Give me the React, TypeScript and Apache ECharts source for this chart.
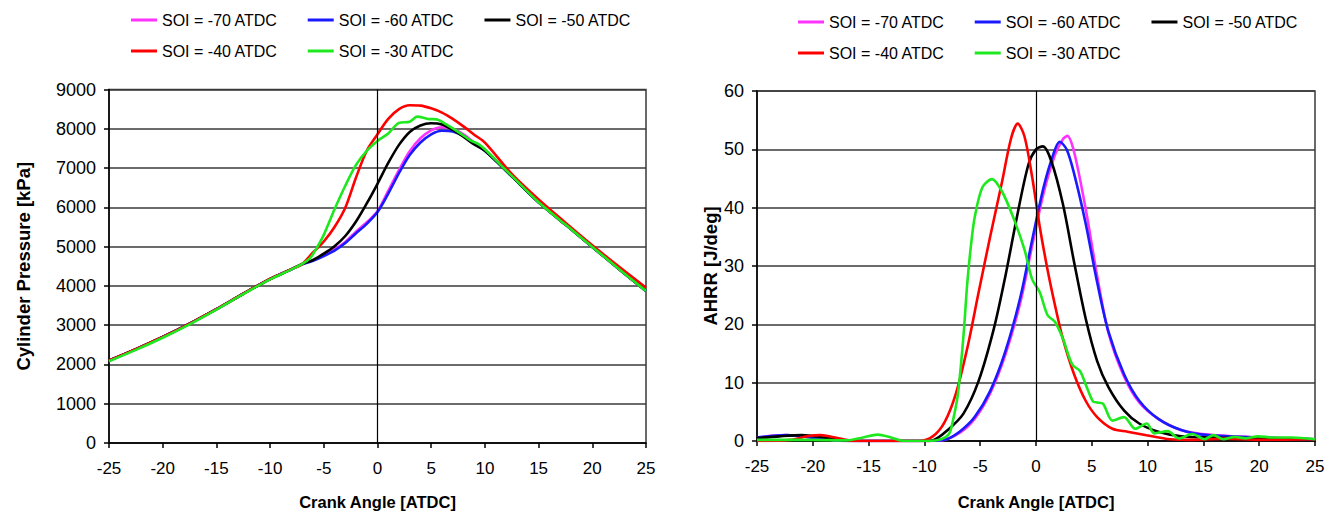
import React, { useEffect, useRef } from "react";
import * as echarts from "echarts";

const FONT = "'Liberation Sans', Arial, sans-serif";

const seriesNames = ["SOI = -70 ATDC", "SOI = -60 ATDC", "SOI = -50 ATDC", "SOI = -40 ATDC", "SOI = -30 ATDC"];
const seriesColors = ["#ff33ff", "#1a1aff", "#000000", "#ff0000", "#1ee81e"];
const xTicks = { min: -25, max: 25, interval: 5 };

// Left chart: cylinder pressure [kPa] vs crank angle [ATDC]
const pressure70 = [[-25,2100],[-22.5,2390],[-20,2700],[-17.5,3040],[-15,3410],[-12.5,3800],[-10,4175],[-8,4425],[-7,4550],[-6,4650],[-5,4780],[-4,4930],[-3,5120],[-2,5380],[-1,5620],[0,5900],[1,6420],[2,6950],[3,7430],[4,7760],[5,7960],[6,8040],[7,8000],[8,7860],[9,7650],[10,7450],[12.5,6800],[15,6130],[17.5,5560],[20,4990],[22.5,4425],[25,3870]];
const pressure60 = [[-25,2100],[-22.5,2390],[-20,2700],[-17.5,3040],[-15,3410],[-12.5,3800],[-10,4175],[-8,4425],[-7,4550],[-6,4640],[-5,4760],[-4,4900],[-3,5090],[-2,5340],[-1,5580],[0,5880],[1,6350],[2,6870],[3,7330],[4,7650],[5,7860],[6,7950],[7,7930],[8,7820],[9,7630],[10,7440],[12.5,6790],[15,6130],[17.5,5560],[20,4990],[22.5,4425],[25,3870]];
const pressure50 = [[-25,2100],[-22.5,2390],[-20,2700],[-17.5,3040],[-15,3410],[-12.5,3800],[-10,4175],[-8,4425],[-7,4560],[-6,4660],[-5,4820],[-4,5010],[-3,5270],[-2,5640],[-1,6100],[0,6600],[1,7130],[2,7590],[3,7920],[4,8085],[5,8140],[6,8110],[7,7970],[8,7800],[9,7600],[10,7440],[12.5,6790],[15,6130],[17.5,5560],[20,4990],[22.5,4425],[25,3870]];
const pressure40 = [[-25,2100],[-22.5,2390],[-20,2700],[-17.5,3040],[-15,3410],[-12.5,3800],[-10,4175],[-8,4425],[-7,4560],[-6,4850],[-5,5130],[-4,5500],[-3,5990],[-2,6760],[-1,7440],[0,7860],[1,8250],[2,8500],[3,8600],[4,8590],[5,8520],[6,8410],[7,8250],[8,8060],[9,7850],[10,7650],[12.5,6850],[15,6200],[17.5,5610],[20,5035],[22.5,4485],[25,3955]];
const pressure30 = [[-25,2080],[-22.5,2370],[-20,2680],[-17.5,3020],[-15,3395],[-12.5,3790],[-10,4165],[-8,4420],[-7,4560],[-6.3,4700],[-5.8,4900],[-5,5300],[-4,5950],[-3,6550],[-2,7080],[-1,7440],[0,7690],[1,7880],[2,8150],[3,8180],[3.7,8310],[4.7,8250],[5.5,8240],[6.4,8110],[7.4,7940],[8.7,7700],[9.4,7610],[10,7480],[11.7,7015],[12.5,6800],[15,6130],[17.5,5560],[20,4990],[22.5,4425],[25,3870]];

// Right chart: apparent heat release rate [J/deg] vs crank angle [ATDC]
const ahrr70 = [[-25,0.6],[-22.5,1.0],[-20,0.6],[-18,0.1],[-16,0],[-10,0],[-8.5,0.1],[-6.85,1.4],[-5.5,3.8],[-4.1,8.2],[-2.74,14.8],[-1.37,24.0],[-0.34,33.5],[0.68,42.5],[1.71,49.1],[2.4,51.7],[2.8,52.3],[3.42,49.5],[4.45,39.8],[5.48,28.3],[6.5,18.5],[7.9,11.0],[9.25,6.6],[10.96,3.8],[13,1.9],[15.4,1.1],[20,0.6],[25,0.3]];
const ahrr60 = [[-25,0.6],[-22.3,1.0],[-19.5,0.45],[-17.5,0.05],[-16,0],[-10,0],[-8.2,0.2],[-6.85,1.6],[-5.5,4.1],[-4.1,8.6],[-2.74,15.4],[-1.37,24.9],[-0.34,34.5],[0.68,43.5],[1.54,49.1],[2.12,51.3],[2.74,50],[3.42,45.8],[4.45,37.3],[5.48,27.2],[6.5,18.7],[7.9,11.4],[9.25,6.9],[10.96,3.8],[13,1.9],[15.4,1.0],[19.9,0.6],[25,0.3]];
const ahrr50 = [[-25,0.5],[-23,0.8],[-21,1.0],[-19,0.6],[-17,0.05],[-15,0],[-10,0],[-9.25,0.1],[-7.9,1.9],[-6.5,4.7],[-5.14,10.3],[-3.77,19.3],[-2.74,28.3],[-1.71,38.4],[-0.68,47.4],[0,50],[0.62,50.5],[1.37,48],[2.4,40.7],[3.42,30.6],[4.45,21],[5.48,13.7],[6.5,9.2],[7.9,5.2],[9.25,3],[10.96,1.6],[13,0.8],[15.4,0.6],[25,0.3]];
const ahrr40 = [[-25,0],[-22,0.2],[-20.5,0.8],[-19.3,1.0],[-18,0.6],[-16.5,0.05],[-15,0],[-10.5,0],[-9.25,0.8],[-8.2,3.2],[-7.2,8.0],[-6.16,15.9],[-5.14,25.5],[-4.1,35.1],[-3.08,44.1],[-2.23,51.9],[-1.64,54.4],[-1.03,52.2],[-0.34,45.2],[0.34,36.7],[1.03,29.4],[1.71,23.2],[2.4,17.6],[3.42,11.4],[4.45,6.9],[5.48,4.1],[6.85,2.1],[8.2,1.6],[9.9,1.0],[12,0.3],[14,0.2],[17,0.4],[20,0.2],[25,0.3]];
const ahrr30 = [[-25,0.2],[-20,0.2],[-17,0.1],[-15.5,0.6],[-14.2,1.1],[-13,0.6],[-12,0.05],[-9.6,0],[-8.5,0.3],[-7.8,1.2],[-7.5,3],[-7.0,8],[-6.5,18],[-6.16,27],[-5.8,34],[-5.48,38.5],[-4.8,43.5],[-3.94,44.9],[-3.08,42.9],[-2.05,38.4],[-1.03,32.8],[-0.34,27.7],[0.34,25.5],[1.03,21.6],[1.71,20.4],[2.4,17.6],[3.25,13.1],[3.94,12],[4.45,9.7],[5.1,6.8],[5.48,6.6],[6,6.4],[6.85,3.5],[7.88,4.1],[8.9,2.1],[9.93,3],[10.6,1.3],[11.8,1.7],[12.8,0.45],[14,1.2],[15.1,0.3],[15.9,1.0],[16.8,0.3],[17.8,0.7],[18.8,0.45],[19.9,0.8],[21.2,0.6],[22.9,0.6],[25,0.3]];

const pressureSeries = [pressure70, pressure60, pressure50, pressure40, pressure30];
const ahrrSeries = [ahrr70, ahrr60, ahrr50, ahrr40, ahrr30];

const yLeft = { min: 0, max: 9000, interval: 1000, name: "Cylinder Pressure [kPa]" };
const yRight = { min: 0, max: 60, interval: 10, name: "AHRR [J/deg]" };
const xName = "Crank Angle [ATDC]";

export default function App() {
  const ref = useRef<HTMLDivElement>(null);
  useEffect(() => {
    if (!ref.current) return;
    const chart = echarts.init(ref.current, undefined, { renderer: "svg" });
    const gridLine = { color: "#3a3a3a", width: 1.5 };
    const axisLineStyle = { color: "#000", width: 1.5 };
    const mkX = (gridIndex: number, gap: number) => ({
      type: "value", gridIndex, min: xTicks.min, max: xTicks.max, interval: xTicks.interval,
      name: xName, nameLocation: "middle", nameGap: gap,
      nameTextStyle: { fontFamily: FONT, fontSize: 16.5, fontWeight: "bold", color: "#000" },
      axisLine: { show: true, onZero: false, lineStyle: axisLineStyle },
      axisTick: { show: true, length: 5, lineStyle: { color: "#000", width: 1.5 } },
      axisLabel: { fontFamily: FONT, fontSize: 17, color: "#000", margin: 17, formatter: (v: number) => String(v) },
      splitLine: { show: false },
    });
    const mkY = (gridIndex: number, cfg: any, gap: number, fs: number) => ({
      type: "value", gridIndex, min: cfg.min, max: cfg.max, interval: cfg.interval,
      name: cfg.name, nameLocation: "middle", nameGap: gap, nameRotate: 90,
      nameTextStyle: { fontFamily: FONT, fontSize: 18.5, fontWeight: "bold", color: "#000" },
      axisLine: { show: true, onZero: false, lineStyle: axisLineStyle },
      axisTick: { show: true, length: 5, lineStyle: { color: "#000", width: 1.5 } },
      axisLabel: { fontFamily: FONT, fontSize: fs, color: "#000", margin: 13, formatter: (v: number) => String(v) },
      splitLine: { show: true, lineStyle: gridLine },
    });
    const zeroLine = {
      silent: true, symbol: ["none", "none"], label: { show: false },
      lineStyle: { color: "#000", width: 1.2, type: "solid" }, data: [{ xAxis: 0 }],
    };
    const series: any[] = [];
    pressureSeries.forEach((d, i) => {
      series.push({
        type: "line", name: seriesNames[i], xAxisIndex: 0, yAxisIndex: 0, data: d,
        showSymbol: false, smooth: 0.3, lineStyle: { color: seriesColors[i], width: 2.6 },
        itemStyle: { color: seriesColors[i] },
        markLine: i === 0 ? zeroLine : undefined,
      });
    });
    ahrrSeries.forEach((d, i) => {
      series.push({
        type: "line", name: seriesNames[i], xAxisIndex: 1, yAxisIndex: 1, data: d,
        showSymbol: false, smooth: 0.3, lineStyle: { color: seriesColors[i], width: 2.6 },
        itemStyle: { color: seriesColors[i] },
        markLine: i === 0 ? zeroLine : undefined,
      });
    });
    const legendBase = {
      orient: "horizontal", icon: "rect", itemWidth: 26, itemHeight: 3, itemGap: 30,
      textStyle: { fontFamily: FONT, fontSize: 16, color: "#000" },
    };
    chart.setOption({
      animation: false,
      backgroundColor: "#fff",
      legend: [
        { ...legendBase, left: 126, top: 7, data: seriesNames.slice(0, 3) },
        { ...legendBase, left: 126, top: 38, data: seriesNames.slice(3) },
        { ...legendBase, left: 793, top: 9, data: seriesNames.slice(0, 3) },
        { ...legendBase, left: 793, top: 40, data: seriesNames.slice(3) },
      ],
      grid: [
        { left: 109, top: 89.5, width: 537, height: 356, show: true, borderColor: "#3a3a3a", borderWidth: 1.5, backgroundColor: "transparent" },
        { left: 757, top: 91, width: 558, height: 354, show: true, borderColor: "#3a3a3a", borderWidth: 1.5, backgroundColor: "transparent" },
      ],
      xAxis: [mkX(0, 50), mkX(1, 52)],
      yAxis: [mkY(0, yLeft, 76, 18), mkY(1, yRight, 27, 18)],
      series,
    });
    return () => chart.dispose();
  }, []);
  return <div ref={ref} style={{ position: "fixed", left: 0, top: 0, width: 1339, height: 515 }} />;
}
